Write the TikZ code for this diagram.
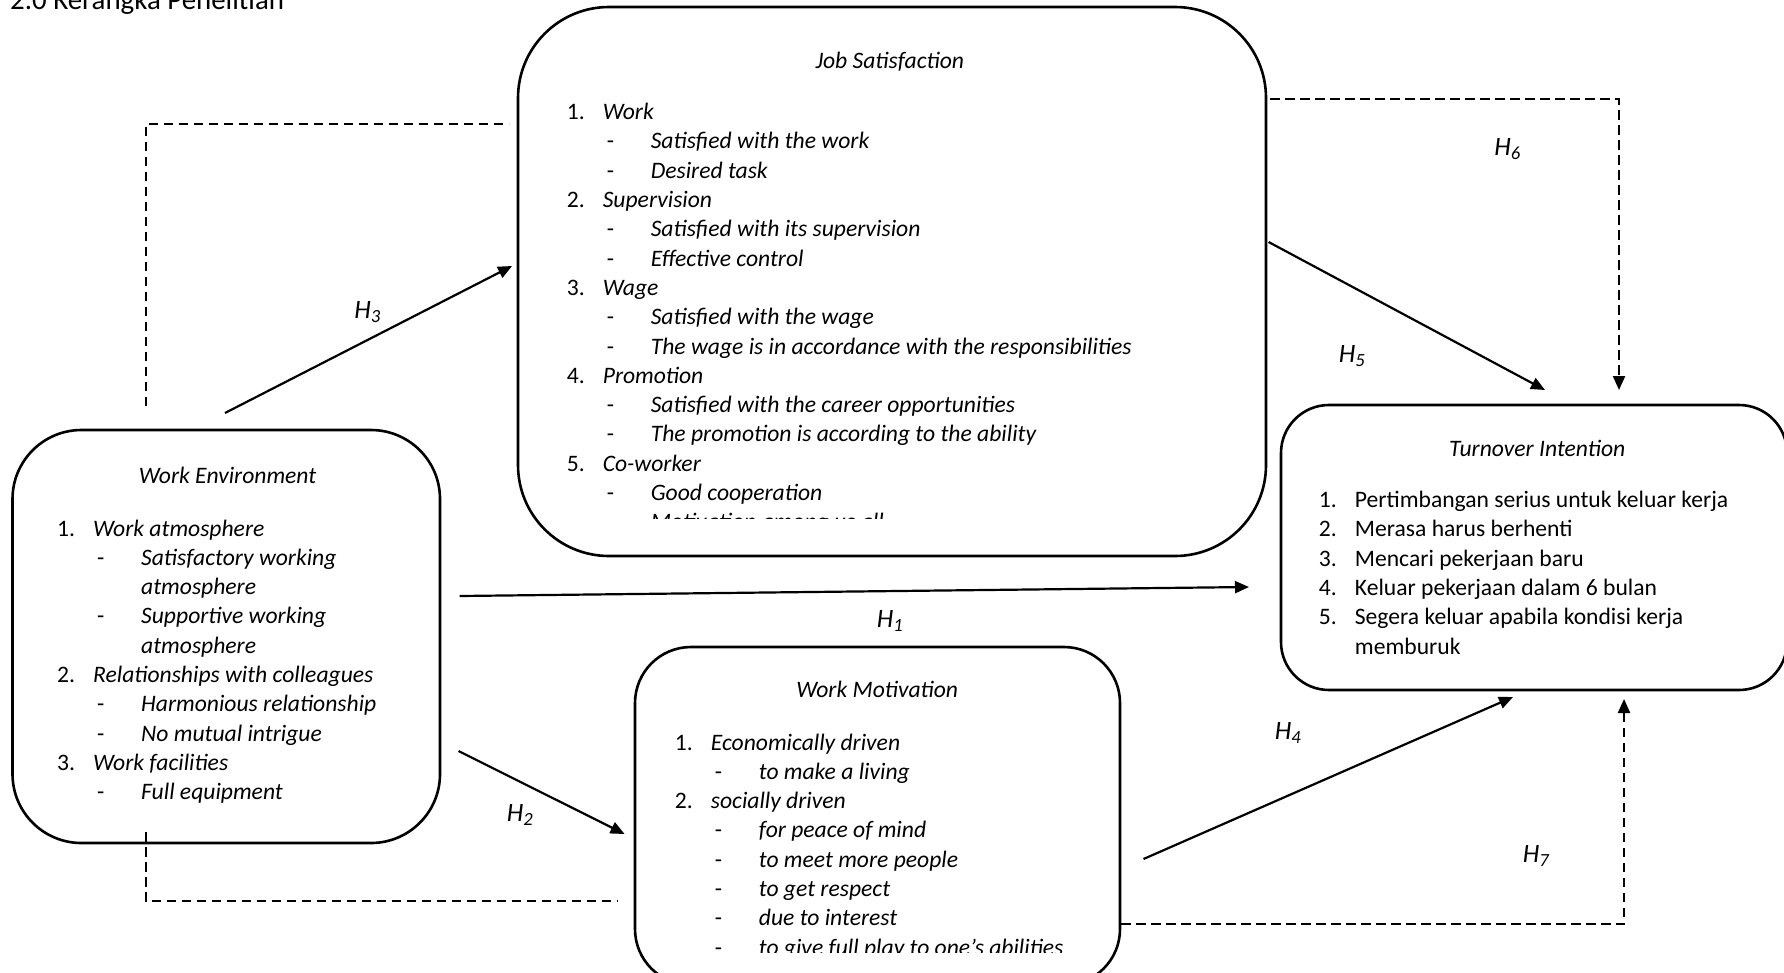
\documentclass[tikz,border=0pt]{standalone}
\usepackage{fontspec}
\setmainfont{Carlito}
\usetikzlibrary{arrows.meta}
\newcommand{\itm}[2]{\makebox[36pt][l]{\upshape #1}\textit{#2}}
\newcommand{\itu}[2]{\makebox[36pt][l]{#1}#2}
\newcommand{\dsh}[1]{\hspace*{40pt}\makebox[44pt][l]{\upshape -}\textit{#1}}
\newcommand{\cnt}[1]{\hspace*{84pt}\textit{#1}}
\begin{document}
\begin{tikzpicture}[x=1pt,y=-1pt,
  box/.style={draw, line width=2.6pt, rectangle, inner sep=0pt},
  txt/.style={anchor=base west, inner sep=0pt, font=\fontsize{23.6}{29.3}\selectfont},
  ttl/.style={anchor=base, inner sep=0pt, font=\fontsize{23.6}{29.3}\selectfont\itshape},
  lbl/.style={inner sep=0pt, font=\fontsize{26.5}{31}\selectfont\itshape},
  con/.style={line width=2.2pt},
  arr/.style={con, -{Triangle[length=14pt,width=12pt]}},
  dashline/.style={con, dash pattern=on 9.5pt off 5.5pt},
  darr/.style={dashline, -{Triangle[length=14pt,width=12pt]}}]
\useasboundingbox (0,0) rectangle (1784,972);
\fill[white] (0,0) rectangle (1784,972);

% page heading
\node[anchor=base west, inner sep=0pt, font=\fontsize{28.9}{34}\selectfont] (title) at (10,9) {2.0 Kerangka Penelitian};

% boxes
\node[box, rounded corners=91pt, minimum width=748pt, minimum height=549pt] (js) at (892,281.5) {};
\node[box, rounded corners=69pt, minimum width=427.5pt, minimum height=413pt] (we) at (226.25,636.5) {};
\node[box, rounded corners=56pt, minimum width=485pt, minimum height=338pt] (wm) at (877.5,816) {};
\node[box, rounded corners=48pt, minimum width=506pt, minimum height=285pt] (ti) at (1534,547.5) {};

% Job Satisfaction
\node[ttl] (jst) at (889.8,68) {Job Satisfaction};
\foreach \t [count=\i from 0] in {
  \itm{1.}{Work},
  \dsh{Satisfied with the work},
  \dsh{Desired task},
  \itm{2.}{Supervision},
  \dsh{Satisfied with its supervision},
  \dsh{Effective control},
  \itm{3.}{Wage},
  \dsh{Satisfied with the wage},
  \dsh{The wage is in accordance with the responsibilities},
  \itm{4.}{Promotion},
  \dsh{Satisfied with the career opportunities},
  \dsh{The promotion is according to the ability},
  \itm{5.}{Co-worker},
  \dsh{Good cooperation}}
  {\node[txt] (js\i) at (566.6,119.6+29.3*\i) {\t};}
\begin{scope}
\clip (0,0) rectangle (1784,518);
\node[txt] (js14) at (566.6,119.6+29.3*14) {\dsh{Motivation among us all}};
\end{scope}

% Work Environment
\node[ttl] (wet) at (227.6,483.5) {Work Environment};
\foreach \t [count=\i from 0] in {
  \itm{1.}{Work atmosphere},
  \dsh{Satisfactory working},
  \cnt{atmosphere},
  \dsh{Supportive working},
  \cnt{atmosphere},
  \itm{2.}{Relationships with colleagues},
  \dsh{Harmonious relationship},
  \dsh{No mutual intrigue},
  \itm{3.}{Work facilities},
  \dsh{Full equipment}}
  {\node[txt] (we\i) at (57,536+29.3*\i) {\t};}

% Work Motivation
\node[ttl] (wmt) at (877.2,697.6) {Work Motivation};
\foreach \t [count=\i from 0] in {
  \itm{1.}{Economically driven},
  \dsh{to make a living},
  \itm{2.}{socially driven},
  \dsh{for peace of mind},
  \dsh{to meet more people},
  \dsh{to get respect},
  \dsh{due to interest}}
  {\node[txt] (wm\i) at (674.7,750+29.3*\i) {\t};}
\begin{scope}
\clip (0,0) rectangle (1784,952.5);
\node[txt] (wm7) at (674.7,750+29.3*7) {\dsh{to give full play to one’s abilities}};
\end{scope}

% Turnover Intention
\node[ttl] (tit) at (1537.2,456.4) {Turnover Intention};
\foreach \t [count=\i from 0] in {
  \itu{1.}{Pertimbangan serius untuk keluar kerja},
  \itu{2.}{Merasa harus berhenti},
  \itu{3.}{Mencari pekerjaan baru},
  \itu{4.}{Keluar pekerjaan dalam 6 bulan},
  \itu{5.}{Segera keluar apabila kondisi kerja},
  \hspace*{36pt}memburuk}
  {\node[txt] (ti\i) at (1318.7,507.6+29.3*\i) {\t};}

% connector end points
\coordinate (d1a) at (145.6,406);
\coordinate (d1b) at (508.6,124);
\coordinate (h3a) at (225,413);
\coordinate (h3b) at (512,266);
\coordinate (d2a) at (145.6,832);
\coordinate (d2b) at (618,901);
\coordinate (h2a) at (458.5,751);
\coordinate (h2b) at (624.6,834);
\coordinate (h1a) at (459.7,596);
\coordinate (h1b) at (1249,587);
\coordinate (h5a) at (1268.6,242);
\coordinate (h5b) at (1545,390);
\coordinate (h6a) at (1270,99);
\coordinate (h6b) at (1619,390);
\coordinate (h4a) at (1143.5,859);
\coordinate (h4b) at (1513,697);
\coordinate (h7a) at (1121,924);
\coordinate (h7b) at (1624,699);

% connectors
\draw[dashline] (d1a) |- (d1b);
\draw[arr] (h3a) -- (h3b);
\draw[dashline] (d2a) |- (d2b);
\draw[arr] (h2a) -- (h2b);
\draw[arr] (h1a) -- (h1b);
\draw[arr] (h5a) -- (h5b);
\draw[darr] (h6a) -| (h6b);
\draw[arr] (h4a) -- (h4b);
\draw[darr] (h7a) -| (h7b);

% hypothesis labels
\node[lbl] (l3) at (367.5,312) {H\textsubscript{3}};
\node[lbl] (l2) at (520,815) {H\textsubscript{2}};
\node[lbl] (l1) at (890,621) {H\textsubscript{1}};
\node[lbl] (l5) at (1352,356) {H\textsubscript{5}};
\node[lbl] (l6) at (1507.5,149) {H\textsubscript{6}};
\node[lbl] (l4) at (1288,733) {H\textsubscript{4}};
\node[lbl] (l7) at (1536,856) {H\textsubscript{7}};
\end{tikzpicture}
\end{document}
